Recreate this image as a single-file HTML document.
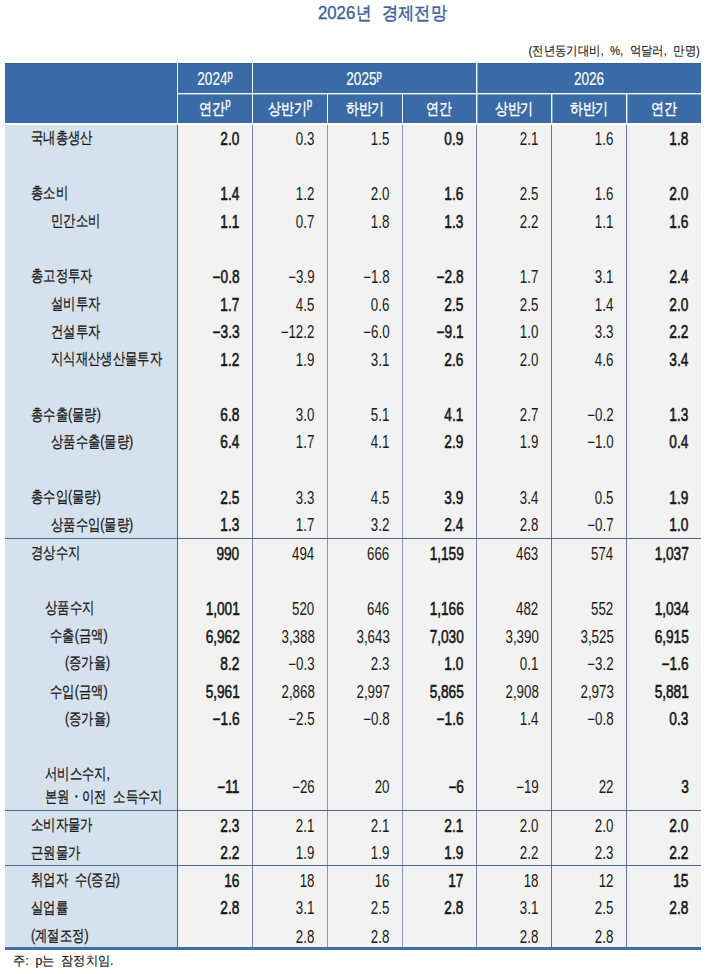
<!DOCTYPE html>
<html lang="ko"><head><meta charset="utf-8"><title>2026년 경제전망</title>
<style>
html,body{margin:0;padding:0;}
body{width:710px;height:974px;position:relative;overflow:hidden;background:#fff;font-family:"Liberation Sans",sans-serif;color:#1a1a1a;}
.r{position:absolute;}
.t{position:absolute;white-space:nowrap;height:20px;line-height:20px;}
.n{text-align:right;font-size:17.5px;transform:scaleX(0.76);transform-origin:100% 50%;}
.b{font-weight:normal;transform:scaleX(0.78);-webkit-text-stroke:0.55px #111;}
.k{font-size:16.0px;transform:scaleX(0.77);transform-origin:0 50%;-webkit-text-stroke:0.3px #1a1a1a;}
.h{color:#fff;text-align:center;transform-origin:50% 50%;-webkit-text-stroke:0.4px #fff;}
.h1{font-size:17.5px;transform:scaleX(0.775);-webkit-text-stroke:0.15px #fff;}
.h2{font-size:16.0px;transform:scaleX(0.81);}
.sp{font-size:12px;position:relative;top:-6.6px;-webkit-text-stroke:0.3px #fff;}
</style></head><body>

<div class="t" style="left:318px;top:2.76px;font-size:18.6px;color:#3b6099;transform:scaleX(0.9);transform-origin:0 50%;-webkit-text-stroke:0.35px #3b6099">2026</div>
<div class="t" style="left:355.5px;top:2.66px;font-size:18px;color:#3b6099;transform:scaleX(0.86);transform-origin:0 50%;-webkit-text-stroke:0.45px #3b6099">년</div>
<div class="t" style="left:381.5px;top:2.76px;font-size:18px;color:#3b6099;transform:scaleX(0.9);transform-origin:0 50%;-webkit-text-stroke:0.45px #3b6099">경제전망</div>
<div class="t" style="right:10px;top:41px;font-size:13px;color:#222;transform:scaleX(0.875);transform-origin:100% 50%;-webkit-text-stroke:0.15px #222">(전년동기대비,&nbsp; %,&nbsp; 억달러,&nbsp; 만명)</div>
<div class="r" style="left:5px;top:63px;width:696px;height:60px;background:#3b6ba6"></div>
<div class="r" style="left:5px;top:63px;width:696px;height:1px;background:#36629a"></div>
<div class="r" style="left:177px;top:93px;width:524px;height:1px;background:#eef6ff"></div>
<div class="r" style="left:177px;top:63px;width:1px;height:60px;background:#eef6ff"></div>
<div class="r" style="left:252px;top:63px;width:1px;height:60px;background:#eef6ff"></div>
<div class="r" style="left:476px;top:63px;width:1px;height:60px;background:#eef6ff"></div>
<div class="r" style="left:327px;top:93px;width:1px;height:30px;background:#eef6ff"></div>
<div class="r" style="left:402px;top:93px;width:1px;height:30px;background:#eef6ff"></div>
<div class="r" style="left:551px;top:93px;width:1px;height:30px;background:#eef6ff"></div>
<div class="r" style="left:626px;top:93px;width:1px;height:30px;background:#eef6ff"></div>
<div class="r" style="left:177px;top:94px;width:524px;height:1px;background:rgba(235,245,255,0.4)"></div>
<div class="r" style="left:477px;top:63px;width:1px;height:60px;background:rgba(235,245,255,0.4)"></div>
<div class="r" style="left:552px;top:94px;width:1px;height:29px;background:rgba(235,245,255,0.4)"></div>
<div class="r" style="left:627px;top:94px;width:1px;height:29px;background:rgba(235,245,255,0.4)"></div>
<div class="r" style="left:5px;top:125px;width:172px;height:822px;background:#d6e1ee"></div>
<div class="r" style="left:178px;top:125px;width:523px;height:822px;background:#f2f2f2"></div>
<div class="r" style="left:177px;top:125px;width:1px;height:822px;background:#4f687f"></div>
<div class="r" style="left:252px;top:125px;width:1px;height:822px;background:#7c8594"></div>
<div class="r" style="left:327px;top:125px;width:1px;height:822px;background:#8898c4"></div>
<div class="r" style="left:402px;top:125px;width:1px;height:822px;background:#8d9bbd"></div>
<div class="r" style="left:476px;top:125px;width:1px;height:822px;background:#7f84a0"></div>
<div class="r" style="left:551px;top:125px;width:1px;height:822px;background:#6a7290"></div>
<div class="r" style="left:626px;top:125px;width:1px;height:822px;background:#67768a"></div>
<div class="r" style="left:5px;top:538px;width:696px;height:1px;background:#4a6890"></div>
<div class="r" style="left:5px;top:810px;width:696px;height:1px;background:#4a6890"></div>
<div class="r" style="left:5px;top:865px;width:696px;height:1px;background:#4a6890"></div>
<div class="r" style="left:5px;top:947px;width:696px;height:3px;background:#3f6ea8"></div>
<div class="t h h1" style="left:154.5px;width:120px;top:69.2px">2024<span class="sp">p</span></div>
<div class="t h h1" style="left:304px;width:120px;top:69.2px">2025<span class="sp">p</span></div>
<div class="t h h1" style="left:528.5px;width:120px;top:69.2px">2026</div>
<div class="t h h2" style="left:154.5px;width:120px;top:99.0px">연간<span class="sp">p</span></div>
<div class="t h h2" style="left:229.5px;width:120px;top:99.0px">상반기<span class="sp">p</span></div>
<div class="t h h2" style="left:304.5px;width:120px;top:99.0px">하반기</div>
<div class="t h h2" style="left:379.0px;width:120px;top:99.0px">연간</div>
<div class="t h h2" style="left:453.5px;width:120px;top:99.0px">상반기</div>
<div class="t h h2" style="left:528.5px;width:120px;top:99.0px">하반기</div>
<div class="t h h2" style="left:603.5px;width:120px;top:99.0px">연간</div>
<div class="t k" style="left:31.0px;top:128.46px">국내총생산</div>
<div class="t n b" style="right:470.5px;top:128.94px">2.0</div>
<div class="t n" style="right:395.5px;top:128.94px">0.3</div>
<div class="t n" style="right:320.5px;top:128.94px">1.5</div>
<div class="t n b" style="right:246.5px;top:128.94px">0.9</div>
<div class="t n" style="right:171.5px;top:128.94px">2.1</div>
<div class="t n" style="right:96.5px;top:128.94px">1.6</div>
<div class="t n b" style="right:21.5px;top:128.94px">1.8</div>
<div class="t k" style="left:31.0px;top:183.46px">총소비</div>
<div class="t n b" style="right:470.5px;top:183.94px">1.4</div>
<div class="t n" style="right:395.5px;top:183.94px">1.2</div>
<div class="t n" style="right:320.5px;top:183.94px">2.0</div>
<div class="t n b" style="right:246.5px;top:183.94px">1.6</div>
<div class="t n" style="right:171.5px;top:183.94px">2.5</div>
<div class="t n" style="right:96.5px;top:183.94px">1.6</div>
<div class="t n b" style="right:21.5px;top:183.94px">2.0</div>
<div class="t k" style="left:50.5px;top:211.06px">민간소비</div>
<div class="t n b" style="right:470.5px;top:211.54px">1.1</div>
<div class="t n" style="right:395.5px;top:211.54px">0.7</div>
<div class="t n" style="right:320.5px;top:211.54px">1.8</div>
<div class="t n b" style="right:246.5px;top:211.54px">1.3</div>
<div class="t n" style="right:171.5px;top:211.54px">2.2</div>
<div class="t n" style="right:96.5px;top:211.54px">1.1</div>
<div class="t n b" style="right:21.5px;top:211.54px">1.6</div>
<div class="t k" style="left:31.0px;top:266.06px">총고정투자</div>
<div class="t n b" style="right:470.5px;top:266.54px">−0.8</div>
<div class="t n" style="right:395.5px;top:266.54px">−3.9</div>
<div class="t n" style="right:320.5px;top:266.54px">−1.8</div>
<div class="t n b" style="right:246.5px;top:266.54px">−2.8</div>
<div class="t n" style="right:171.5px;top:266.54px">1.7</div>
<div class="t n" style="right:96.5px;top:266.54px">3.1</div>
<div class="t n b" style="right:21.5px;top:266.54px">2.4</div>
<div class="t k" style="left:50.5px;top:294.26px">설비투자</div>
<div class="t n b" style="right:470.5px;top:294.74px">1.7</div>
<div class="t n" style="right:395.5px;top:294.74px">4.5</div>
<div class="t n" style="right:320.5px;top:294.74px">0.6</div>
<div class="t n b" style="right:246.5px;top:294.74px">2.5</div>
<div class="t n" style="right:171.5px;top:294.74px">2.5</div>
<div class="t n" style="right:96.5px;top:294.74px">1.4</div>
<div class="t n b" style="right:21.5px;top:294.74px">2.0</div>
<div class="t k" style="left:50.5px;top:321.96px">건설투자</div>
<div class="t n b" style="right:470.5px;top:322.44px">−3.3</div>
<div class="t n" style="right:395.5px;top:322.44px">−12.2</div>
<div class="t n" style="right:320.5px;top:322.44px">−6.0</div>
<div class="t n b" style="right:246.5px;top:322.44px">−9.1</div>
<div class="t n" style="right:171.5px;top:322.44px">1.0</div>
<div class="t n" style="right:96.5px;top:322.44px">3.3</div>
<div class="t n b" style="right:21.5px;top:322.44px">2.2</div>
<div class="t k" style="left:50.5px;top:349.46px">지식재산생산물투자</div>
<div class="t n b" style="right:470.5px;top:349.94px">1.2</div>
<div class="t n" style="right:395.5px;top:349.94px">1.9</div>
<div class="t n" style="right:320.5px;top:349.94px">3.1</div>
<div class="t n b" style="right:246.5px;top:349.94px">2.6</div>
<div class="t n" style="right:171.5px;top:349.94px">2.0</div>
<div class="t n" style="right:96.5px;top:349.94px">4.6</div>
<div class="t n b" style="right:21.5px;top:349.94px">3.4</div>
<div class="t k" style="left:31.0px;top:404.76px">총수출(물량)</div>
<div class="t n b" style="right:470.5px;top:405.24px">6.8</div>
<div class="t n" style="right:395.5px;top:405.24px">3.0</div>
<div class="t n" style="right:320.5px;top:405.24px">5.1</div>
<div class="t n b" style="right:246.5px;top:405.24px">4.1</div>
<div class="t n" style="right:171.5px;top:405.24px">2.7</div>
<div class="t n" style="right:96.5px;top:405.24px">−0.2</div>
<div class="t n b" style="right:21.5px;top:405.24px">1.3</div>
<div class="t k" style="left:50.5px;top:431.96px">상품수출(물량)</div>
<div class="t n b" style="right:470.5px;top:432.44px">6.4</div>
<div class="t n" style="right:395.5px;top:432.44px">1.7</div>
<div class="t n" style="right:320.5px;top:432.44px">4.1</div>
<div class="t n b" style="right:246.5px;top:432.44px">2.9</div>
<div class="t n" style="right:171.5px;top:432.44px">1.9</div>
<div class="t n" style="right:96.5px;top:432.44px">−1.0</div>
<div class="t n b" style="right:21.5px;top:432.44px">0.4</div>
<div class="t k" style="left:31.0px;top:487.06px">총수입(물량)</div>
<div class="t n b" style="right:470.5px;top:487.54px">2.5</div>
<div class="t n" style="right:395.5px;top:487.54px">3.3</div>
<div class="t n" style="right:320.5px;top:487.54px">4.5</div>
<div class="t n b" style="right:246.5px;top:487.54px">3.9</div>
<div class="t n" style="right:171.5px;top:487.54px">3.4</div>
<div class="t n" style="right:96.5px;top:487.54px">0.5</div>
<div class="t n b" style="right:21.5px;top:487.54px">1.9</div>
<div class="t k" style="left:50.5px;top:514.76px">상품수입(물량)</div>
<div class="t n b" style="right:470.5px;top:515.24px">1.3</div>
<div class="t n" style="right:395.5px;top:515.24px">1.7</div>
<div class="t n" style="right:320.5px;top:515.24px">3.2</div>
<div class="t n b" style="right:246.5px;top:515.24px">2.4</div>
<div class="t n" style="right:171.5px;top:515.24px">2.8</div>
<div class="t n" style="right:96.5px;top:515.24px">−0.7</div>
<div class="t n b" style="right:21.5px;top:515.24px">1.0</div>
<div class="t k" style="left:31.0px;top:543.06px">경상수지</div>
<div class="t n b" style="right:470.5px;top:543.54px">990</div>
<div class="t n" style="right:395.5px;top:543.54px">494</div>
<div class="t n" style="right:320.5px;top:543.54px">666</div>
<div class="t n b" style="right:246.5px;top:543.54px">1,159</div>
<div class="t n" style="right:171.5px;top:543.54px">463</div>
<div class="t n" style="right:96.5px;top:543.54px">574</div>
<div class="t n b" style="right:21.5px;top:543.54px">1,037</div>
<div class="t k" style="left:44.5px;top:598.06px">상품수지</div>
<div class="t n b" style="right:470.5px;top:598.54px">1,001</div>
<div class="t n" style="right:395.5px;top:598.54px">520</div>
<div class="t n" style="right:320.5px;top:598.54px">646</div>
<div class="t n b" style="right:246.5px;top:598.54px">1,166</div>
<div class="t n" style="right:171.5px;top:598.54px">482</div>
<div class="t n" style="right:96.5px;top:598.54px">552</div>
<div class="t n b" style="right:21.5px;top:598.54px">1,034</div>
<div class="t k" style="left:49.5px;top:626.46px">수출(금액)</div>
<div class="t n b" style="right:470.5px;top:626.94px">6,962</div>
<div class="t n" style="right:395.5px;top:626.94px">3,388</div>
<div class="t n" style="right:320.5px;top:626.94px">3,643</div>
<div class="t n b" style="right:246.5px;top:626.94px">7,030</div>
<div class="t n" style="right:171.5px;top:626.94px">3,390</div>
<div class="t n" style="right:96.5px;top:626.94px">3,525</div>
<div class="t n b" style="right:21.5px;top:626.94px">6,915</div>
<div class="t k" style="left:64.5px;top:653.06px">(증가율)</div>
<div class="t n b" style="right:470.5px;top:653.54px">8.2</div>
<div class="t n" style="right:395.5px;top:653.54px">−0.3</div>
<div class="t n" style="right:320.5px;top:653.54px">2.3</div>
<div class="t n b" style="right:246.5px;top:653.54px">1.0</div>
<div class="t n" style="right:171.5px;top:653.54px">0.1</div>
<div class="t n" style="right:96.5px;top:653.54px">−3.2</div>
<div class="t n b" style="right:21.5px;top:653.54px">−1.6</div>
<div class="t k" style="left:49.5px;top:681.66px">수입(금액)</div>
<div class="t n b" style="right:470.5px;top:682.14px">5,961</div>
<div class="t n" style="right:395.5px;top:682.14px">2,868</div>
<div class="t n" style="right:320.5px;top:682.14px">2,997</div>
<div class="t n b" style="right:246.5px;top:682.14px">5,865</div>
<div class="t n" style="right:171.5px;top:682.14px">2,908</div>
<div class="t n" style="right:96.5px;top:682.14px">2,973</div>
<div class="t n b" style="right:21.5px;top:682.14px">5,881</div>
<div class="t k" style="left:64.5px;top:708.66px">(증가율)</div>
<div class="t n b" style="right:470.5px;top:709.14px">−1.6</div>
<div class="t n" style="right:395.5px;top:709.14px">−2.5</div>
<div class="t n" style="right:320.5px;top:709.14px">−0.8</div>
<div class="t n b" style="right:246.5px;top:709.14px">−1.6</div>
<div class="t n" style="right:171.5px;top:709.14px">1.4</div>
<div class="t n" style="right:96.5px;top:709.14px">−0.8</div>
<div class="t n b" style="right:21.5px;top:709.14px">0.3</div>
<div class="t k" style="left:44.5px;top:764.46px">서비스수지,</div>
<div class="t k" style="left:44.5px;top:787.46px">본원・이전&nbsp; 소득수지</div>
<div class="t n b" style="right:470.5px;top:776.84px">−11</div>
<div class="t n" style="right:395.5px;top:776.84px">−26</div>
<div class="t n" style="right:320.5px;top:776.84px">20</div>
<div class="t n b" style="right:246.5px;top:776.84px">−6</div>
<div class="t n" style="right:171.5px;top:776.84px">−19</div>
<div class="t n" style="right:96.5px;top:776.84px">22</div>
<div class="t n b" style="right:21.5px;top:776.84px">3</div>
<div class="t k" style="left:31.0px;top:815.46px">소비자물가</div>
<div class="t n b" style="right:470.5px;top:815.94px">2.3</div>
<div class="t n" style="right:395.5px;top:815.94px">2.1</div>
<div class="t n" style="right:320.5px;top:815.94px">2.1</div>
<div class="t n b" style="right:246.5px;top:815.94px">2.1</div>
<div class="t n" style="right:171.5px;top:815.94px">2.0</div>
<div class="t n" style="right:96.5px;top:815.94px">2.0</div>
<div class="t n b" style="right:21.5px;top:815.94px">2.0</div>
<div class="t k" style="left:31.0px;top:842.96px">근원물가</div>
<div class="t n b" style="right:470.5px;top:843.44px">2.2</div>
<div class="t n" style="right:395.5px;top:843.44px">1.9</div>
<div class="t n" style="right:320.5px;top:843.44px">1.9</div>
<div class="t n b" style="right:246.5px;top:843.44px">1.9</div>
<div class="t n" style="right:171.5px;top:843.44px">2.2</div>
<div class="t n" style="right:96.5px;top:843.44px">2.3</div>
<div class="t n b" style="right:21.5px;top:843.44px">2.2</div>
<div class="t k" style="left:31.0px;top:870.16px">취업자&nbsp; 수(증감)</div>
<div class="t n b" style="right:470.5px;top:870.64px">16</div>
<div class="t n" style="right:395.5px;top:870.64px">18</div>
<div class="t n" style="right:320.5px;top:870.64px">16</div>
<div class="t n b" style="right:246.5px;top:870.64px">17</div>
<div class="t n" style="right:171.5px;top:870.64px">18</div>
<div class="t n" style="right:96.5px;top:870.64px">12</div>
<div class="t n b" style="right:21.5px;top:870.64px">15</div>
<div class="t k" style="left:31.0px;top:897.86px">실업률</div>
<div class="t n b" style="right:470.5px;top:898.34px">2.8</div>
<div class="t n" style="right:395.5px;top:898.34px">3.1</div>
<div class="t n" style="right:320.5px;top:898.34px">2.5</div>
<div class="t n b" style="right:246.5px;top:898.34px">2.8</div>
<div class="t n" style="right:171.5px;top:898.34px">3.1</div>
<div class="t n" style="right:96.5px;top:898.34px">2.5</div>
<div class="t n b" style="right:21.5px;top:898.34px">2.8</div>
<div class="t k" style="left:31.0px;top:926.06px">(계절조정)</div>
<div class="t n" style="right:395.5px;top:926.54px">2.8</div>
<div class="t n" style="right:320.5px;top:926.54px">2.8</div>
<div class="t n" style="right:171.5px;top:926.54px">2.8</div>
<div class="t n" style="right:96.5px;top:926.54px">2.8</div>
<div class="t" style="left:13px;top:951.2px;font-size:13px;color:#222;transform:scaleX(0.94);transform-origin:0 50%;-webkit-text-stroke:0.2px #222">주:&nbsp; p는&nbsp; 잠정치임.</div>
</body></html>
